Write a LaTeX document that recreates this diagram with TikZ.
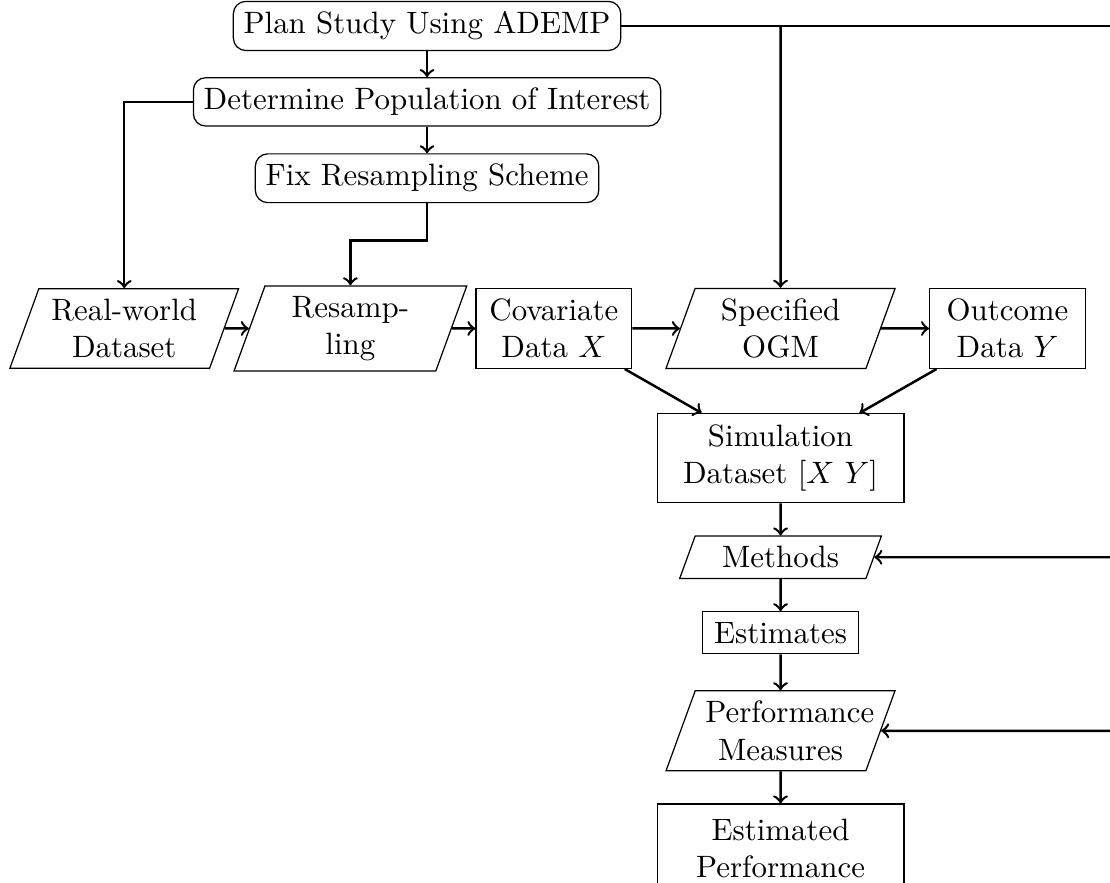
\documentclass[tikz,border=0pt]{standalone}
\usepackage{tikz}
\usetikzlibrary{shapes.geometric,positioning}
\tikzstyle{stage}=[draw,rounded corners]
\tikzstyle{block}=[draw,text width=43.7pt,align=center]
\tikzstyle{wide block}=[block,text width=73.2pt,minimum height=28.8pt]
\tikzstyle{io}=[draw,trapezium,trapezium left angle=70,trapezium right angle=110,text width=48.6pt,align=center]
\tikzstyle{flowline}=[->,thick]
\begin{document}
\begin{tikzpicture}
		\useasboundingbox (0pt,0pt) rectangle (359.2pt,-285.7pt);
		\clip (0pt,0pt) rectangle (359.2pt,-285.7pt);
		\node[stage] (plan) at (138.2pt,-8.4pt) {Plan Study Using ADEMP};
		\node[stage] (population) [below=8.4pt of plan] {Determine Population of Interest};
		\node[stage] (scheme) [below=8.6pt of population] {Fix Resampling Scheme};
		\node[io] (realdata) at (40.2pt,-106.3pt) {Real-world\\Dataset};
		\node[io] (resample) [right=7.8pt of realdata] {Resamp-\\ling};
		\node[block] (covariate) [right=7.6pt of resample] {Covariate\\Data $X$};
		\node[io] (ogm) [right=15.4pt of covariate] {Specified\\OGM};
		\node[block] (outcome) [right=15.5pt of ogm] {Outcome\\Data $Y$};
		\node[wide block] (simdata) [below=14.2pt of ogm] {Simulation\\Dataset [$X$ $Y$]};
		\node[io] (methods) [below=10.4pt of simdata] {Methods};
		\node[block] (estimates) [below=10.4pt of methods] {Estimates};
		\node[io] (measures) [below=11.6pt of estimates] {Performance\\Measures};
		\node[wide block] (performance) [below=10.4pt of measures] {Estimated\\Performance};
		\coordinate (rightrail) at (362pt,0pt);
		
		\draw[flowline] (plan) -- (population);
		\draw[flowline] (population) -- (scheme);
		\draw[flowline] (population.west) -| (realdata);
		\draw[flowline] (scheme.south) -- ++(0,-12pt) -| (resample);
		\draw[flowline] (realdata) -- (resample);
		\draw[flowline] (resample) -- (covariate);
		\draw[flowline] (covariate) -- (ogm);
		\draw[flowline] (ogm) -- (outcome);
		\draw[flowline] (covariate) -- (simdata);
		\draw[flowline] (outcome) -- (simdata);
		\draw[flowline] (simdata) -- (methods);
		\draw[flowline] (methods) -- (estimates);
		\draw[flowline] (estimates) -- (measures);
		\draw[flowline] (measures) -- (performance);
		\draw[thick] (plan) -- (plan -| rightrail);
		\draw[flowline] (plan -| ogm) -- (ogm);
		\draw[flowline] (methods -| rightrail) -- (methods);
		\draw[flowline] (measures -| rightrail) -- (measures);
	\end{tikzpicture}
\end{document}
